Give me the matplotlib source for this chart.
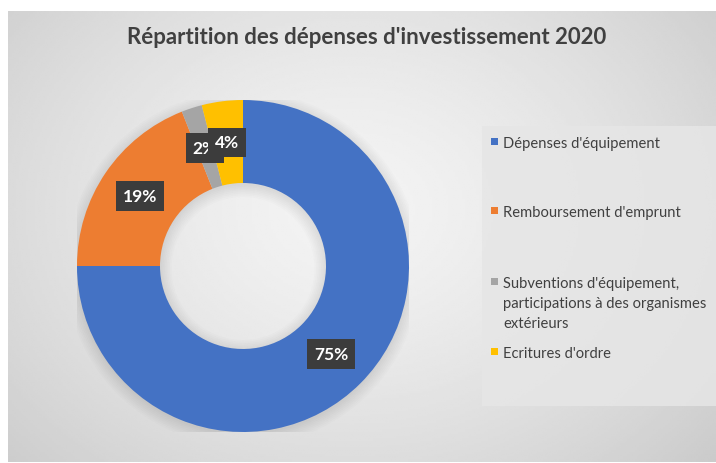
import matplotlib.pyplot as plt
import numpy as np
from matplotlib.patches import Rectangle, Wedge

plt.rcParams['font.family'] = ['Lato', 'DejaVu Sans']

# Data
title = "Répartition des dépenses d'investissement 2020"
categories = ["Dépenses d'équipement",
              "Remboursement d'emprunt",
              "Subventions d'équipement,\nparticipations à des organismes\nextérieurs",
              "Ecritures d'ordre"]
values = [75, 19, 2, 4]
colors = ['#4472C4', '#ED7D31', '#A5A5A5', '#FFC000']

W, H = 716, 464
fig = plt.figure(figsize=(W / 100, H / 100), dpi=100)
fig.patch.set_facecolor('white')

# Background axes in pixel coordinates
bg = fig.add_axes([0, 0, 1, 1])
bg.set_xlim(0, W)
bg.set_ylim(H, 0)
bg.axis('off')

# radial gradient for chart area
x0, y0, x1, y1 = 8, 12, W, 463
xx, yy = np.meshgrid(np.linspace(x0, x1, 300), np.linspace(y0, y1, 200))
d = np.sqrt(((xx - 350) / 420) ** 2 + ((yy - 210) / 330) ** 2)
grad = np.clip(0.955 - 0.13 * d ** 1.4, 0.78, 0.96)
bg.imshow(grad, cmap='gray', vmin=0, vmax=1, extent=[x0, x1, y1, y0],
          aspect='auto', zorder=0, interpolation='bilinear')

# Title
bg.text(367, 38, title, ha='center', va='center', fontsize=16,
        fontweight='bold', color='#404040')

# Legend box
bg.add_patch(Rectangle((482, 127), W - 482, 280, facecolor='#e6e6e6',
                       edgecolor='none', alpha=0.85, zorder=1))
leg_y = [142, 211, 282, 352]
for lab, col, y in zip(categories, colors, leg_y):
    bg.add_patch(Rectangle((491, y - 3.5), 7, 7, facecolor=col,
                           edgecolor='none', zorder=2))
    bg.text(503, y - 5, lab, ha='left', va='top', fontsize=10.6,
            color='#404040', linespacing=1.55, zorder=2)

# Donut
cx, cy, r = 243, 267, 166
ax = fig.add_axes([(cx - r) / W, 1 - (cy + r) / H, 2 * r / W, 2 * r / H])

# soft shadow ring
for k in range(8):
    ax.add_patch(Wedge((0.0, -0.015), 1.0 + 0.01 * k, 0, 360,
                       width=0.5 + 0.02 * k, color='black',
                       alpha=0.012, zorder=0, lw=0))

wedges, _ = ax.pie(values, colors=colors, startangle=90, counterclock=False,
                   radius=1.0, wedgeprops=dict(width=0.5, edgecolor='none'))
ax.set_xlim(-1, 1)
ax.set_ylim(-1, 1)
ax.axis('off')

total = sum(values)
cum = 0
for i, v in enumerate(values):
    mid = (cum + v / 2) / total * 360
    cum += v
    ang = np.radians(90 - mid)
    lx, ly = 0.75 * np.cos(ang), 0.75 * np.sin(ang)
    ax.text(lx, ly, f"{v}%", ha='center', va='center', fontsize=12.5,
            fontweight='bold', color='white', zorder=5 + i,
            bbox=dict(boxstyle='square,pad=0.4', facecolor='#3c3c3c',
                      edgecolor='none'))

fig.savefig('out.png', dpi=100)
